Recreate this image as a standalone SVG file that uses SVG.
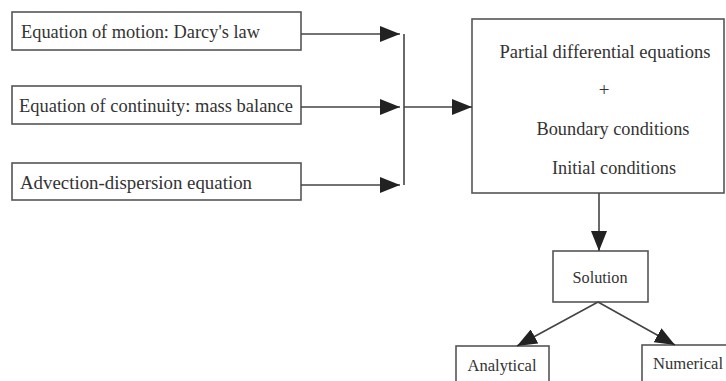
<svg xmlns="http://www.w3.org/2000/svg" width="726" height="381" viewBox="0 0 726 381">
<style>
.box{fill:#fff;stroke:#555;stroke-width:1.6}
.t{font-family:"Liberation Serif","Times New Roman",Tinos,"DejaVu Serif",serif;fill:#333;font-size:19px}
.c{text-anchor:middle}
.ln{fill:none;stroke:#444;stroke-width:1.6}
</style>
<defs>
<marker id="ah" viewBox="0 0 20 16" refX="20" refY="8" markerWidth="20" markerHeight="16" markerUnits="userSpaceOnUse" orient="auto">
<path d="M0,0 L20,8 L0,16 Z" fill="#222"/>
</marker>
</defs>
<rect width="726" height="381" fill="#fff"/>
<g id="n1"><rect class="box" x="12" y="12" width="289" height="38"/><text class="t" x="21" y="38" textLength="239" lengthAdjust="spacingAndGlyphs">Equation of motion: Darcy's law</text></g>
<g id="n2"><rect class="box" x="12" y="86" width="289" height="38"/><text class="t" x="19" y="112" textLength="274" lengthAdjust="spacingAndGlyphs">Equation of continuity: mass balance</text></g>
<g id="n3"><rect class="box" x="12" y="163" width="289" height="37"/><text class="t" x="20" y="189" textLength="232" lengthAdjust="spacingAndGlyphs">Advection-dispersion equation</text></g>
<g id="pde"><rect class="box" x="472" y="19" width="252" height="174"/>
<text class="t c" x="605" y="58" textLength="211" lengthAdjust="spacingAndGlyphs">Partial differential equations</text>
<text class="t c" x="604" y="96">+</text>
<text class="t c" x="613" y="135" textLength="153" lengthAdjust="spacingAndGlyphs">Boundary conditions</text>
<text class="t c" x="614" y="174" textLength="124" lengthAdjust="spacingAndGlyphs">Initial conditions</text></g>
<g id="sol"><rect class="box" x="553" y="251" width="95" height="51"/><text class="t c" x="600" y="283" style="font-size:16px" textLength="55" lengthAdjust="spacingAndGlyphs">Solution</text></g>
<g id="ana"><rect class="box" x="456" y="346" width="93" height="40"/><text class="t c" x="502" y="371" style="font-size:17px" textLength="69" lengthAdjust="spacingAndGlyphs">Analytical</text></g>
<g id="num"><rect class="box" x="642" y="345" width="90" height="40"/><text class="t c" x="688" y="369" style="font-size:17px" textLength="70" lengthAdjust="spacingAndGlyphs">Numerical</text></g>
<g id="connectors">
<path class="ln" d="M301,34 H400" marker-end="url(#ah)"/>
<path class="ln" d="M301,107 H400" marker-end="url(#ah)"/>
<path class="ln" d="M301,185 H400" marker-end="url(#ah)"/>
<path class="ln" d="M404,34 V185"/>
<path class="ln" d="M404,107 H472" marker-end="url(#ah)"/>
<path class="ln" d="M599,193 V251" marker-end="url(#ah)"/>
<path class="ln" d="M598,302 L517,346" marker-end="url(#ah)"/>
<path class="ln" d="M598,302 L675,345" marker-end="url(#ah)"/>
</g>
</svg>
